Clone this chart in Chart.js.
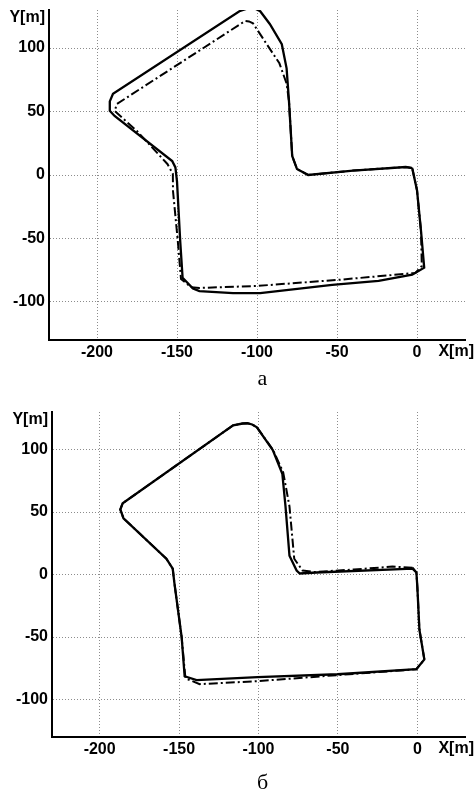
<!DOCTYPE html>
<html>
<head>
<meta charset="utf-8">
<script src="https://cdn.jsdelivr.net/npm/chart.js@4.4.1/dist/chart.umd.min.js"></script>
<style>
  body { margin: 0; background: #fff; width: 475px; height: 792px; position: relative; overflow: hidden; }
  canvas { position: absolute; left: 0; }
  .cap { position: absolute; width: 475px; left: 0; text-align: center; font-family: 'Liberation Serif', serif; font-size: 22px; color: #000; }
</style>
</head>
<body>
<canvas id="chartA" width="475" height="370" style="top:0px"></canvas>
<div class="cap" style="left:25px; top:365px;">а</div>
<canvas id="chartB" width="475" height="370" style="top:400px"></canvas>
<div class="cap" style="left:25px; top:769px;">б</div>
<script>
// tick values shared by both plots
const xTicks = [-200, -150, -100, -50, 0];
const yTicks = [-100, -50, 0, 50, 100];

// plot "а": solid trajectory
const aSolidX = [-3, -7, -40, -68, -75, -78, -80, -81.5, -84.5, -92, -98, -101, -103, -106, -111, -190, -192, -192, -189, -153, -151, -150, -148, -146.5, -140, -136, -115, -98, -53, -24, -3, 4.5, 2.5, 0, -3];
const aSolidY = [5.5, 6.3, 3.5, 0, 4.7, 15, 58, 84, 103, 119, 129, 131, 131.5, 131.2, 129, 64, 58, 50.5, 46.5, 11, 6, -5, -52, -81, -89.5, -91.5, -93, -93, -86.5, -83.5, -78.5, -73, -44, -12, 5.5];
// plot "а": dash-dot trajectory
const aDashX = [-3, -7, -40, -68, -75, -78, -80, -81.5, -86, -96.5, -102.5, -105, -107.5, -187.5, -189, -175, -156, -152.6, -152.5, -149.5, -147.5, -141, -136, -100, -50, -1, 3, 2.5, 0, -3];
const aDashY = [5.5, 6.3, 3.5, 0, 4.7, 15, 58, 72, 88, 108, 119.5, 121, 121.3, 56, 50.5, 34.6, 8.7, 1, -12.6, -52, -82, -88.5, -89, -87.4, -82.7, -77.2, -71.7, -44, -12, 5.5];

// plot "б": solid trajectory
const bSolidX = [-3, -63.5, -74, -76, -80.5, -83, -85, -91, -101, -104, -107, -110, -116, -185.5, -187, -185, -158, -154, -153, -148.4, -146.5, -139, -100.6, -50.3, -0.6, 4.4, 1.3, 0, -0.6, -3];
const bSolidY = [4.7, 1.6, 0.8, 3.2, 15, 54.5, 80.6, 99.5, 117.7, 120, 121, 120.8, 119.3, 57, 52, 45, 12.6, 4.7, -6.3, -49.8, -81.4, -84.5, -82.1, -79.8, -75.8, -67.9, -44.2, -10, 1.6, 4.7];
// plot "б": dash-dot trajectory
const bDashX = [-3, -15.7, -40, -65, -72.3, -77.5, -80.5, -84.5, -91, -101, -104, -107, -110, -116, -185.5, -187, -185, -158, -154, -153, -148.4, -146, -137, -100.6, -50.3, -0.6, 4.4, 1.3, 0, -0.6, -3];
const bDashY = [5.5, 6.3, 4, 2, 3.2, 12.6, 54.5, 82, 100, 117.7, 120, 121, 120.8, 119.3, 57, 52, 45, 12.6, 4.7, -6.3, -50, -83, -87.7, -85.3, -80.5, -75.8, -67.9, -44.2, -10, 1.6, 5.5];

function pts(xs, ys) {
  return xs.map((x, i) => ({ x: x, y: ys[i] }));
}

// axis captions X[m], Y[m]
const axisNames = {
  id: 'axisNames',
  afterDraw(chart) {
    const ctx = chart.ctx;
    const area = chart.chartArea;
    ctx.save();
    ctx.fillStyle = '#000';
    ctx.font = 'bold 16px "Liberation Sans", Arial, sans-serif';
    ctx.textBaseline = 'middle';
    ctx.textAlign = 'right';
    ctx.fillText('Y[m]', area.left - 4, area.top + 8);
    ctx.fillText('X[m]', chart.width - 1, area.bottom + 12);
    ctx.restore();
  }
};

function makeChart(id, solid, dash, yAxisWidth, xAxisHeight, padTop) {
  const tickFont = { family: '"Liberation Sans", Arial, sans-serif', size: 16, weight: 'bold' };
  return new Chart(document.getElementById(id).getContext('2d'), {
    type: 'scatter',
    data: {
      datasets: [
        {
          data: solid,
          showLine: true,
          borderColor: '#000',
          borderWidth: 2.3,
          pointRadius: 0,
          tension: 0
        },
        {
          data: dash,
          showLine: true,
          borderColor: '#000',
          borderWidth: 2,
          borderDash: [9, 3, 2, 3],
          pointRadius: 0,
          tension: 0
        }
      ]
    },
    options: {
      responsive: false,
      animation: false,
      devicePixelRatio: 1,
      layout: { padding: { top: padTop, right: 10, left: 0, bottom: 0 } },
      plugins: { legend: { display: false }, tooltip: { enabled: false } },
      scales: {
        x: {
          type: 'linear',
          min: -230,
          max: 30,
          afterBuildTicks: s => { s.ticks = xTicks.map(v => ({ value: v })); },
          afterFit: s => { s.height = xAxisHeight; s.paddingLeft = 0; s.paddingRight = 0; },
          grid: { color: '#8c8c8c', lineWidth: 1, drawTicks: false },
          border: { display: true, color: '#000', width: 2, dash: [1, 2] },
          ticks: { color: '#000', font: tickFont, padding: 3, maxRotation: 0 }
        },
        y: {
          type: 'linear',
          min: -130,
          max: 130,
          afterBuildTicks: s => { s.ticks = yTicks.map(v => ({ value: v })); },
          afterFit: s => { s.width = yAxisWidth; s.paddingTop = 0; s.paddingBottom = 0; },
          grid: { color: '#8c8c8c', lineWidth: 1, drawTicks: false },
          border: { display: true, color: '#000', width: 2, dash: [1, 2] },
          ticks: { color: '#000', font: tickFont, padding: 4 }
        }
      }
    },
    plugins: [axisNames]
  });
}

makeChart('chartA', pts(aSolidX, aSolidY), pts(aDashX, aDashY), 49, 30, 10);
makeChart('chartB', pts(bSolidX, bSolidY), pts(bDashX, bDashY), 52, 33, 12);
</script>
</body>
</html>
